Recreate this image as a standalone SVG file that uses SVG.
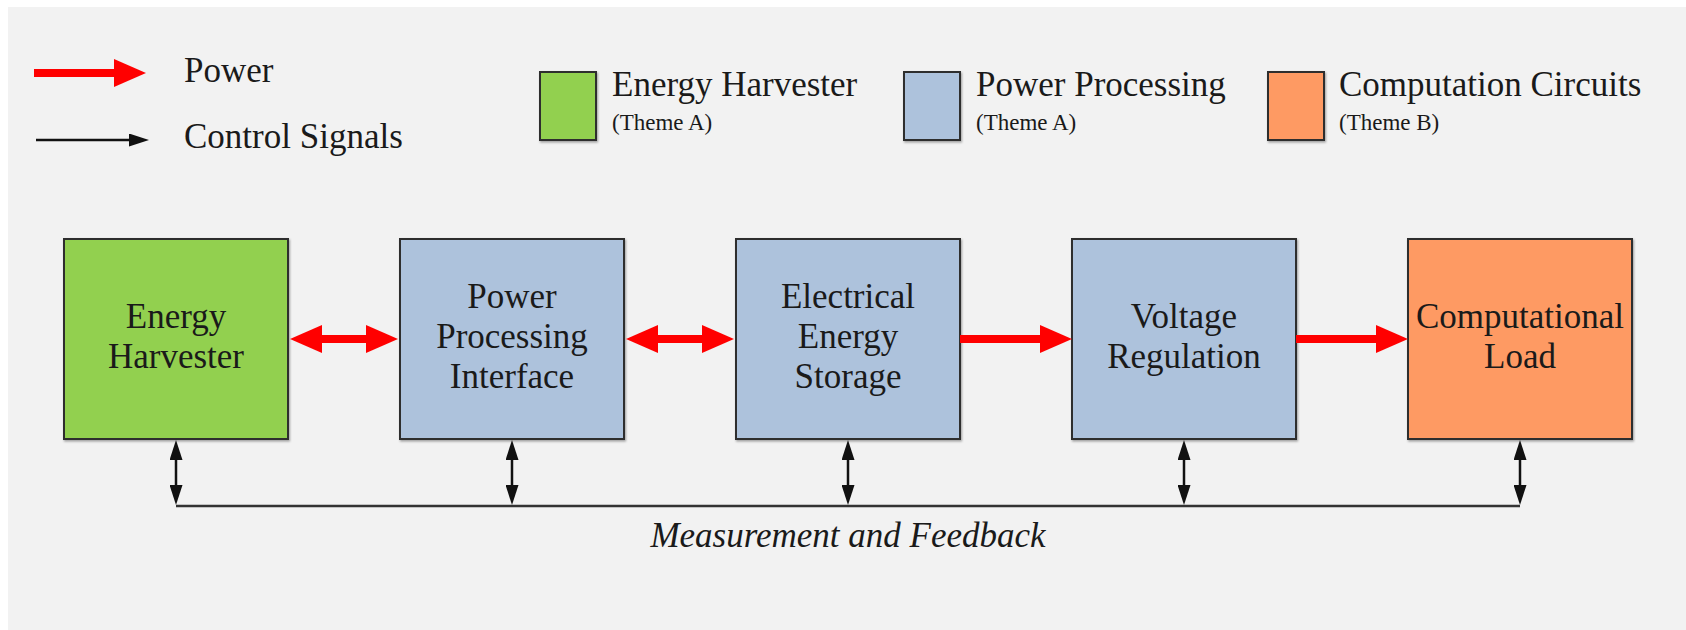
<svg xmlns="http://www.w3.org/2000/svg" width="1686" height="630" viewBox="0 0 1686 630">
<defs>
<style>
.bg{fill:#f2f2f2}
.box{stroke:#2e2e2e;stroke-width:2;filter:url(#sh)}
.green{fill:#92d050}
.blue{fill:#adc2dc}
.orange{fill:#fe9a64}
.t{font-family:"Liberation Serif","Times New Roman",serif;fill:#1a1a1a}
.bt{font-size:35px;text-anchor:middle}
.lt{font-size:35px}
.ls{font-size:23px}
.pw{stroke:#ff0000;stroke-width:8;fill:none}
.cs{stroke:#111;stroke-width:2.5;fill:none}
</style>
<filter id="sh" x="-10%" y="-10%" width="120%" height="120%">
<feDropShadow dx="1" dy="1.5" stdDeviation="1.2" flood-color="#000" flood-opacity="0.35"/>
</filter>
<marker id="ra" viewBox="0 0 32 28" markerWidth="32" markerHeight="28" refX="4" refY="14" orient="auto-start-reverse" markerUnits="userSpaceOnUse">
<path d="M0,0 L32,14 L0,28 Z" fill="#ff0000"/>
</marker>
<marker id="ka" viewBox="0 0 20 13" markerWidth="20" markerHeight="13" refX="3" refY="6.5" orient="auto-start-reverse" markerUnits="userSpaceOnUse">
<path d="M0,0 L20,6.5 L0,13 Z" fill="#111"/>
</marker>
</defs>
<rect x="0" y="0" width="1686" height="630" fill="#ffffff"/>
<rect class="bg" x="8" y="7" width="1678" height="623"/>

<g id="legend">
<line class="pw" x1="34" y1="73" x2="118" y2="73" marker-end="url(#ra)"/>
<text class="t lt" x="184" y="82">Power</text>
<line class="cs" x1="36" y1="140" x2="132" y2="140" marker-end="url(#ka)"/>
<text class="t lt" x="184" y="148">Control Signals</text>
<rect class="box green" x="540" y="72" width="56" height="68"/>
<text class="t lt" x="612" y="96">Energy Harvester</text>
<text class="t ls" x="612" y="130">(Theme A)</text>
<rect class="box blue" x="904" y="72" width="56" height="68"/>
<text class="t lt" x="976" y="96">Power Processing</text>
<text class="t ls" x="976" y="130">(Theme A)</text>
<rect class="box orange" x="1268" y="72" width="56" height="68"/>
<text class="t lt" x="1339" y="96">Computation Circuits</text>
<text class="t ls" x="1339" y="130">(Theme B)</text>
</g>

<g id="n1">
<rect class="box green" x="64" y="239" width="224" height="200"/>
<text class="t bt" x="176" y="328">Energy</text>
<text class="t bt" x="176" y="368">Harvester</text>
</g>
<g id="n2">
<rect class="box blue" x="400" y="239" width="224" height="200"/>
<text class="t bt" x="512" y="308">Power</text>
<text class="t bt" x="512" y="348">Processing</text>
<text class="t bt" x="512" y="388">Interface</text>
</g>
<g id="n3">
<rect class="box blue" x="736" y="239" width="224" height="200"/>
<text class="t bt" x="848" y="308">Electrical</text>
<text class="t bt" x="848" y="348">Energy</text>
<text class="t bt" x="848" y="388">Storage</text>
</g>
<g id="n4">
<rect class="box blue" x="1072" y="239" width="224" height="200"/>
<text class="t bt" x="1184" y="328">Voltage</text>
<text class="t bt" x="1184" y="368">Regulation</text>
</g>
<g id="n5">
<rect class="box orange" x="1408" y="239" width="224" height="200"/>
<text class="t bt" x="1520" y="328">Computational</text>
<text class="t bt" x="1520" y="368">Load</text>
</g>

<g id="connectors">
<line class="pw" x1="318" y1="339" x2="370" y2="339" marker-start="url(#ra)" marker-end="url(#ra)"/>
<line class="pw" x1="654" y1="339" x2="706" y2="339" marker-start="url(#ra)" marker-end="url(#ra)"/>
<line class="pw" x1="960" y1="339" x2="1044" y2="339" marker-end="url(#ra)"/>
<line class="pw" x1="1296" y1="339" x2="1380" y2="339" marker-end="url(#ra)"/>
<line class="cs" x1="176" y1="457" x2="176" y2="488" marker-start="url(#ka)" marker-end="url(#ka)"/>
<line class="cs" x1="512" y1="457" x2="512" y2="488" marker-start="url(#ka)" marker-end="url(#ka)"/>
<line class="cs" x1="848" y1="457" x2="848" y2="488" marker-start="url(#ka)" marker-end="url(#ka)"/>
<line class="cs" x1="1184" y1="457" x2="1184" y2="488" marker-start="url(#ka)" marker-end="url(#ka)"/>
<line class="cs" x1="1520" y1="457" x2="1520" y2="488" marker-start="url(#ka)" marker-end="url(#ka)"/>
<line class="cs" x1="176" y1="506" x2="1520" y2="506" style="stroke:#333"/>
<text class="t" x="848" y="547" style="font-size:35px;font-style:italic;text-anchor:middle">Measurement and Feedback</text>
</g>
</svg>
